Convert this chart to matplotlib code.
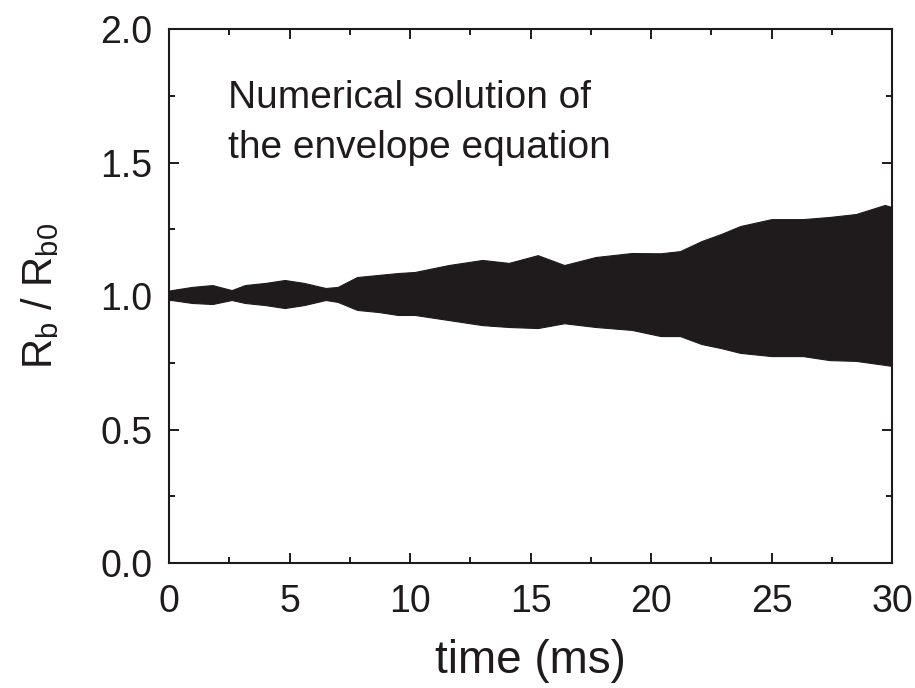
import numpy as np
import matplotlib
matplotlib.use("Agg")
import matplotlib.pyplot as plt
from matplotlib.ticker import MultipleLocator

plt.rcParams['font.family'] = ['Liberation Sans', 'DejaVu Sans']
plt.rcParams['mathtext.fontset'] = 'custom'
plt.rcParams['mathtext.rm'] = 'Liberation Sans'

# envelope of the oscillating beam radius
t_ms = [0.0, 0.1, 0.95, 1.8, 2.6, 3.15, 4.0, 4.8, 5.6, 6.5, 7.0, 7.8, 8.7, 9.5,
        10.2, 11.6, 13.0, 14.1, 15.3, 16.4, 17.7, 19.2, 20.4, 21.2, 22.1,
        22.9, 23.7, 25.0, 26.3, 27.4, 28.5, 29.7, 30.0]
r_upper = [1.02, 1.022, 1.034, 1.041, 1.022, 1.041, 1.049, 1.06, 1.049, 1.03,
           1.034, 1.071, 1.079, 1.086, 1.09, 1.116, 1.135, 1.124, 1.153, 1.116,
           1.146, 1.161, 1.16, 1.168, 1.206, 1.232, 1.262, 1.288, 1.288, 1.296,
           1.307, 1.341, 1.333]
r_lower = [0.985, 0.985, 0.974, 0.970, 0.985, 0.974, 0.966, 0.955, 0.966, 0.985,
           0.978, 0.948, 0.94, 0.929, 0.929, 0.91, 0.891, 0.884, 0.88, 0.898,
           0.884, 0.873, 0.85, 0.85, 0.82, 0.805, 0.787, 0.775, 0.775, 0.76,
           0.757, 0.742, 0.738]

fig = plt.figure(figsize=(9.15, 6.88), dpi=100)
ax = fig.add_axes([0.1847, 0.1817, 0.7902, 0.7761])

ax.fill_between(t_ms, r_lower, r_upper, color='#1f1a1b', linewidth=0.8,
                edgecolor='#1f1a1b')

ax.set_xlim(0, 30)
ax.set_ylim(0, 2.0)
ax.xaxis.set_major_locator(MultipleLocator(5))
ax.xaxis.set_minor_locator(MultipleLocator(2.5))
ax.yaxis.set_major_locator(MultipleLocator(0.5))
ax.yaxis.set_minor_locator(MultipleLocator(0.25))
ax.set_yticks([0, 0.5, 1.0, 1.5, 2.0])
ax.set_yticklabels(['0.0', '0.5', '1.0', '1.5', '2.0'])

ax.tick_params(which='both', direction='in', top=True, right=True,
               width=1.4, colors='#1f1a1b')
ax.tick_params(which='major', length=7, labelsize=27)
ax.tick_params(which='minor', length=4.5)
ax.tick_params(axis='x', which='major', pad=15)
ax.tick_params(axis='y', which='major', pad=12)
for s in ax.spines.values():
    s.set_linewidth(1.5)
    s.set_color('#1f1a1b')

ax.set_xlabel('time (ms)', fontsize=33, labelpad=14, color='#1f1a1b')
ax.set_ylabel(r'R$_\mathrm{b}$ / R$_\mathrm{b0}$', fontsize=30, labelpad=28,
              color='#1f1a1b')

ax.text(0.082, 0.905, 'Numerical solution of\nthe envelope equation',
        transform=ax.transAxes, fontsize=28, va='top', ha='left',
        linespacing=1.5, color='#1f1a1b')

fig.savefig('out.png', dpi=100)
